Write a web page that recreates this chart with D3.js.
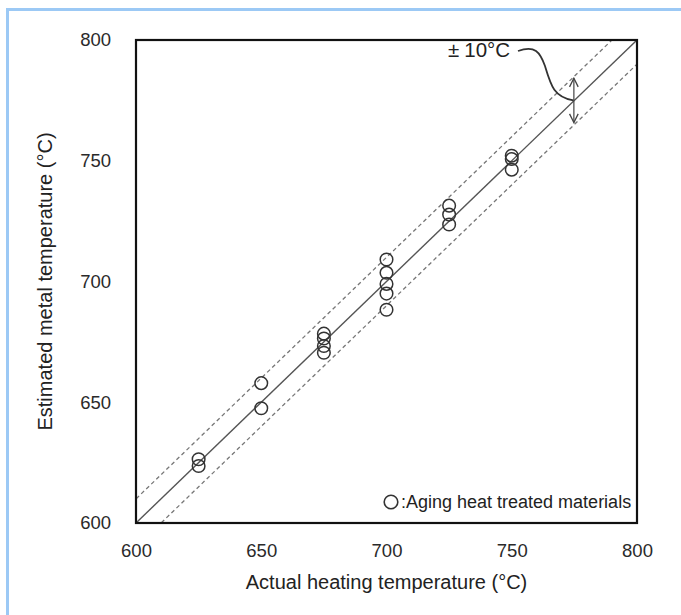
<!DOCTYPE html>
<html>
<head>
<meta charset="utf-8">
<script src="https://cdn.jsdelivr.net/npm/d3@7"></script>
<style>
  body { margin: 0; background: #fff; }
  svg { display: block; font-family: "Liberation Sans", Arial, sans-serif; }
</style>
</head>
<body>
<svg id="chart" width="681" height="615"></svg>
<script>
// measured points: actual heating temp vs estimated metal temp
const actualTemp = [625, 625, 650, 650, 675, 675, 675, 675, 700, 700, 700, 700, 700, 725, 725, 725, 750, 750, 750];
const estimatedTemp = [626.4, 623.6, 657.9, 647.5, 678.4, 676.4, 673.3, 670.5, 709.1, 703.6, 699.0, 695.0, 688.3, 731.4, 727.7, 723.6, 752.1, 750.7, 746.3];
const tickValues = [600, 650, 700, 750, 800];
const band = 10;

const svg = d3.select("#chart");

// light blue frame of the screenshot
svg.append("line").attr("x1", 7).attr("y1", 9.5).attr("x2", 681).attr("y2", 9.5)
    .attr("stroke", "#9cc9f5").attr("stroke-width", 3);
svg.append("line").attr("x1", 7.5).attr("y1", 8).attr("x2", 7.5).attr("y2", 615)
    .attr("stroke", "#9cc9f5").attr("stroke-width", 3);

const x = d3.scaleLinear().domain([600, 800]).range([136, 637]);
const y = d3.scaleLinear().domain([600, 800]).range([523, 40]);

svg.append("defs").append("clipPath").attr("id", "clip")
    .append("rect")
    .attr("x", x(600)).attr("y", y(800))
    .attr("width", x(800) - x(600)).attr("height", y(600) - y(800));

const plot = svg.append("g").attr("clip-path", "url(#clip)");

// y = x and ±10 lines
const line = d3.line().x(d => x(d[0])).y(d => y(d[1]));
[-band, 0, band].forEach(off => {
    plot.append("path")
        .attr("d", line([[590, 590 + off], [810, 810 + off]]))
        .attr("fill", "none")
        .attr("stroke", off === 0 ? "#555" : "#777")
        .attr("stroke-width", off === 0 ? 1.4 : 1.3)
        .attr("stroke-dasharray", off === 0 ? null : "4,3");
});

// data circles
plot.selectAll(".pt")
    .data(actualTemp.map((a, i) => [a, estimatedTemp[i]]))
    .enter().append("circle")
    .attr("class", "pt")
    .attr("cx", d => x(d[0]))
    .attr("cy", d => y(d[1]))
    .attr("r", 6.3)
    .attr("fill", "none")
    .attr("stroke", "#333")
    .attr("stroke-width", 1.5);

// frame
svg.append("rect")
    .attr("x", x(600)).attr("y", y(800))
    .attr("width", x(800) - x(600)).attr("height", y(600) - y(800))
    .attr("fill", "none").attr("stroke", "#111").attr("stroke-width", 2.2);

// tick labels (no tick marks in the original)
const xAxis = svg.append("g")
    .attr("transform", `translate(0,${y(600)})`)
    .call(d3.axisBottom(x).tickValues(tickValues).tickSize(0).tickPadding(21));
const yAxis = svg.append("g")
    .attr("transform", `translate(${x(600)},0)`)
    .call(d3.axisLeft(y).tickValues(tickValues).tickSize(0).tickPadding(25));
[xAxis, yAxis].forEach(g => {
    g.select(".domain").remove();
    g.selectAll("text").attr("font-size", 18.5).attr("fill", "#2a2a2a")
        .attr("font-family", "'Liberation Sans', Arial, sans-serif");
});

// axis titles
svg.append("text")
    .attr("x", (x(600) + x(800)) / 2).attr("y", 589)
    .attr("text-anchor", "middle").attr("font-size", 20).attr("fill", "#222")
    .text("Actual heating temperature (°C)");
svg.append("text")
    .attr("transform", `translate(52,${(y(600) + y(800)) / 2}) rotate(-90)`)
    .attr("text-anchor", "middle").attr("font-size", 20).attr("fill", "#222")
    .text("Estimated metal temperature (°C)");

// ±10°C annotation
const ax = 775;
svg.append("defs").append("marker")
    .attr("id", "arr").attr("viewBox", "0 0 10 10")
    .attr("refX", 9).attr("refY", 5)
    .attr("markerWidth", 9).attr("markerHeight", 9)
    .attr("orient", "auto-start-reverse")
    .append("path").attr("d", "M1,1 L9,5 L1,9")
    .attr("fill", "none").attr("stroke", "#444").attr("stroke-width", 1.2);
svg.append("line")
    .attr("x1", x(ax) - 0.5).attr("y1", y(ax + band) + 2)
    .attr("x2", x(ax) - 0.5).attr("y2", y(ax - band) - 2)
    .attr("stroke", "#444").attr("stroke-width", 1.2)
    .attr("marker-start", "url(#arr)").attr("marker-end", "url(#arr)");
svg.append("path")
    .attr("d", `M518,51 C535,45 540,52 545,66 C551,86 554,97 ${x(ax) - 1},${y(ax)}`)
    .attr("fill", "none").attr("stroke", "#333").attr("stroke-width", 1.8);
const ann = svg.append("text")
    .attr("x", 448).attr("y", 57)
    .attr("font-size", 20.5).attr("fill", "#222");
ann.append("tspan").text("±");
ann.append("tspan").attr("dx", 5).text("10°C");

// legend
svg.append("circle")
    .attr("cx", 391).attr("cy", 502).attr("r", 6.8)
    .attr("fill", "none").attr("stroke", "#333").attr("stroke-width", 1.6);
svg.append("text")
    .attr("x", 401).attr("y", 508)
    .attr("font-size", 18).attr("fill", "#222")
    .text(":Aging heat treated materials");
</script>
</body>
</html>
